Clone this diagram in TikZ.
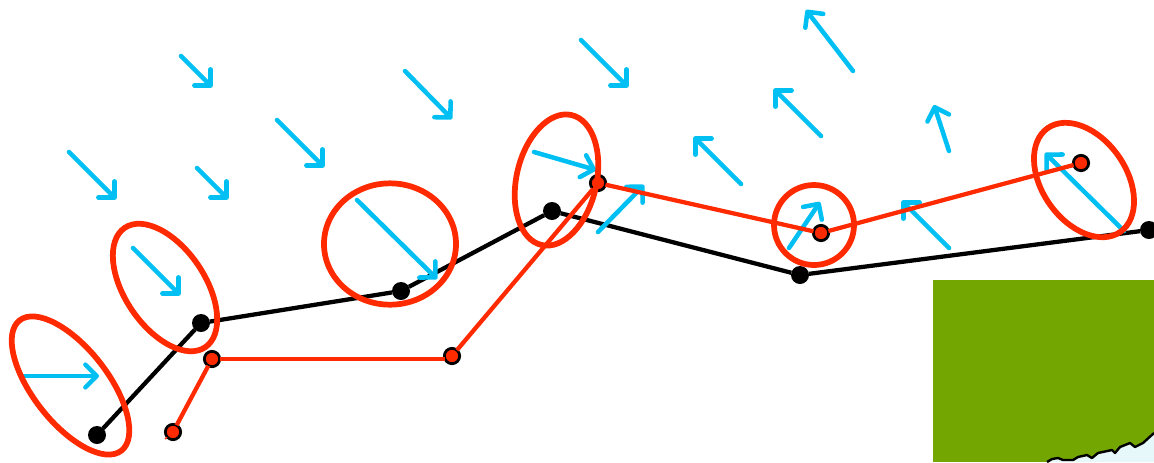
\documentclass[tikz,border=0pt]{standalone}
\usetikzlibrary{arrows.meta,shapes.geometric}
\definecolor{wind}{HTML}{00BFF3}
\definecolor{track}{HTML}{FF2A00}
\definecolor{land}{HTML}{73A600}
\definecolor{sea}{HTML}{E6F8FA}
\tikzset{
  x=0.75pt,y=-0.75pt,
  blackdot/.style={circle,fill=black,inner sep=0pt,minimum size=13.5pt,outer sep=0pt},
  reddot/.style={circle,fill=track,draw=black,line width=2.1pt,inner sep=0pt,minimum size=11.5pt,outer sep=0pt},
  blackline/.style={draw=black,line width=3.2pt},
  redline/.style={draw=track,line width=3.2pt},
  windarrow/.style={draw=wind,line width=3.4pt,line cap=round,-{Straight Barb[length=8.5pt,width=17pt,round,line width=3.4pt]}},
  ring/.style={ellipse,draw=track,line width=4.3pt,inner sep=0pt,outer sep=0pt},
}
\newcommand{\windarr}[5]{%
  \coordinate (#1a) at (#2,#3);
  \coordinate (#1b) at (#4,#5);
  \draw[windarrow] (#1a) -- (#1b);
}
\begin{document}
\begin{tikzpicture}
\useasboundingbox (0,0) rectangle (1154,462);
\clip (0,0) rectangle (1154,462);
% map
\fill[land] (933,280) rectangle (1154,462);
\fill[sea] (1047,462) -- (1052,459) -- (1058,458) -- (1063,460) -- (1073,460) -- (1078,457) -- (1087,455) -- (1092,458) -- (1098,453) -- (1112,450) -- (1115,453) -- (1120,447) -- (1130,443) -- (1135,447) -- (1143,443) -- (1154,433) -- (1154,462) -- cycle;
\draw[black,line width=1.8pt,line join=round] (1047,462) -- (1052,459) -- (1058,458) -- (1063,460) -- (1073,460) -- (1078,457) -- (1087,455) -- (1092,458) -- (1098,453) -- (1112,450) -- (1115,453) -- (1120,447) -- (1130,443) -- (1135,447) -- (1143,443) -- (1154,433);
% black track
\node[blackdot] (b1) at (97,435) {};
\node[blackdot] (b2) at (201,323) {};
\node[blackdot] (b3) at (401,291) {};
\node[blackdot] (b4) at (552,211) {};
\node[blackdot] (b5) at (800,275) {};
\node[blackdot] (b6) at (1149,230) {};
\draw[blackline] (b1) -- (b2);
\draw[blackline] (b2) -- (b3);
\draw[blackline] (b3) -- (b4);
\draw[blackline] (b4) -- (b5);
\draw[blackline] (b5) -- (b6);
% wind
\windarr{w1}{22}{376}{99}{376}
\windarr{w2}{133}{248}{180}{295}
\windarr{w3}{357}{200}{437}{279}
\windarr{w4}{534}{152}{596}{170}
\windarr{w5}{598}{232}{644}{185}
\windarr{w6}{789}{248}{820}{202}
\windarr{w7}{1124}{231}{1045}{153}
\windarr{w8}{949}{248}{902}{201}
\windarr{w9}{949}{151}{934}{105}
\windarr{w10}{741}{184}{694}{137}
\windarr{w11}{821}{136}{774}{89}
\windarr{w12}{853}{71}{806}{10}
\windarr{w13}{581}{40}{628}{87}
\windarr{w14}{405}{71}{452}{119}
\windarr{w15}{277}{120}{324}{167}
\windarr{w16}{181}{56}{212}{87}
\windarr{w17}{197}{168}{228}{199}
\windarr{w18}{69}{152}{116}{199}
% red track
\node[reddot] (r1) at (173,432) {};
\node[reddot] (r2) at (212,359) {};
\node[reddot] (r3) at (452,356) {};
\node[reddot] (r4) at (598,183) {};
\node[reddot] (r5) at (821,233) {};
\node[reddot] (r6) at (1081,163) {};
\coordinate (r0) at (165,439);
\coordinate (r3k) at (445,359);
\draw[draw=track,line width=1pt] (r0) -- (r1);
\draw[redline] (r1) -- (r2);
\draw[redline] (r2) -- (r3k);
\draw[redline] (r3) -- (r4);
\draw[redline] (r4) -- (r5);
\draw[redline] (r5) -- (r6);
% rings
\node[ring,minimum width=124pt,minimum height=56pt,rotate=-52] (e1) at (70.5,385.5) {};
\node[ring,minimum width=108pt,minimum height=60pt,rotate=-56] (e2) at (165,287.5) {};
\node[ring,minimum width=99pt,minimum height=91pt] (e3) at (390,244) {};
\node[ring,minimum width=100pt,minimum height=60pt,rotate=77] (e4) at (556.5,180) {};
\node[ring,minimum width=60pt,minimum height=60pt] (e5) at (814,225) {};
\node[ring,minimum width=95pt,minimum height=63pt,rotate=-55] (e6) at (1084,180) {};
\end{tikzpicture}
\end{document}
